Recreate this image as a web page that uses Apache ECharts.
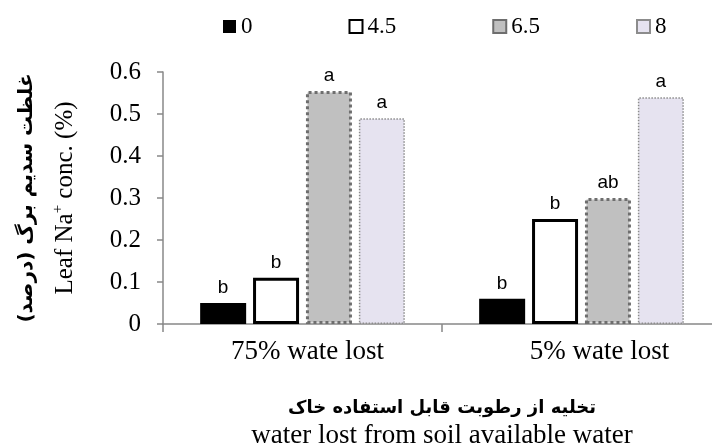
<!DOCTYPE html>
<html>
<head>
<meta charset="utf-8">
<title>Leaf Na+ conc.</title>
<script src="https://cdn.jsdelivr.net/npm/echarts@6/dist/echarts.min.js"></script>
<style>
  html, body { margin: 0; padding: 0; background: #fff; }
  #chart { width: 712px; height: 446px; }
</style>
</head>
<body>
<div id="chart"></div>
<script>
  // data
  var categories = ['75% wate lost', '5% wate lost']
  var levels = ['0', '4.5', '6.5', '8']
  var values0 = [0.05, 0.06]
  var values45 = [0.11, 0.25]
  var values65 = [0.555, 0.30]
  var values8 = [0.49, 0.54]
  var letters0 = ['b', 'b']
  var letters45 = ['b', 'b']
  var letters65 = ['a', 'ab']
  var letters8 = ['a', 'a']
  var yTicks = [0, 0.1, 0.2, 0.3, 0.4, 0.5, 0.6]

  var serif = 'Liberation Serif'

  // bar styles per salinity level
  var styles = [
    { color: '#000000', borderColor: '#000000', borderWidth: 0 },
    { color: '#ffffff', borderColor: '#000000', borderWidth: 3 },
    { color: '#c0c0c0', borderColor: '#6e6e6e', borderWidth: 3, borderType: 'dotted' },
    { color: '#e6e3f0', borderColor: '#8c8c8c', borderWidth: 1.5, borderType: 'dotted' }
  ]
  var seriesValues = [values0, values45, values65, values8]
  var seriesLetters = [letters0, letters45, letters65, letters8]

  function makeSeries (i) {
    var letters = seriesLetters[i]
    return {
      name: levels[i],
      type: 'bar',
      barWidth: 46,
      barGap: '15%',
      data: seriesValues[i],
      itemStyle: styles[i],
      label: {
        show: true,
        position: 'top',
        distance: 6,
        fontFamily: 'Liberation Sans',
        fontSize: 19,
        color: '#000',
        formatter: function (p) { return letters[p.dataIndex] }
      }
    }
  }

  var option = {
    backgroundColor: '#fff',
    animation: false,
    legend: {
      data: levels,
      left: 218,
      top: 10,
      itemWidth: 13,
      itemHeight: 13,
      itemGap: 96,
      icon: 'rect',
      textStyle: { fontFamily: serif, fontSize: 23, color: '#000' }
    },
    grid: {
      left: 163,
      top: 72,
      width: 558,
      height: 252,
      outerBoundsMode: 'none'
    },
    xAxis: {
      type: 'category',
      data: [
        { value: categories[0], textStyle: { padding: [0, 0, 0, 10] } },
        { value: categories[1], textStyle: { padding: [0, 0, 0, 36] } }
      ],
      axisLine: { lineStyle: { color: '#888', width: 1.5 } },
      axisTick: { show: true, length: 8, lineStyle: { color: '#888', width: 1.5 } },
      axisLabel: { margin: 14, fontFamily: serif, fontSize: 27, color: '#000' },
      name: '{fa|تخلیه از رطوبت قابل استفاده خاک}\n{en|water lost from soil available water}',
      nameLocation: 'middle',
      nameGap: 70,
      nameTextStyle: {
        rich: {
          fa: { fontFamily: 'DejaVu Sans', fontWeight: 'bold', fontSize: 18, color: '#000', lineHeight: 28 },
          en: { fontFamily: serif, fontSize: 27, color: '#000', lineHeight: 28 }
        }
      }
    },
    yAxis: {
      type: 'value',
      min: yTicks[0],
      max: yTicks[yTicks.length - 1],
      interval: 0.1,
      splitLine: { show: false },
      axisLine: { show: true, lineStyle: { color: '#888', width: 1.5 } },
      axisTick: { show: true, length: 6, lineStyle: { color: '#888', width: 1.5 } },
      axisLabel: { margin: 22, fontFamily: serif, fontSize: 25, color: '#000' },
      name: '{fa|غلظت سدیم برگ (درصد)}\n{en|Leaf Na}{sup|+}{en| conc. (%)}',
      nameLocation: 'middle',
      nameRotate: 90,
      nameGap: 78,
      nameTextStyle: {
        rich: {
          fa: { fontFamily: 'DejaVu Sans', fontWeight: 'bold', fontSize: 20, color: '#000', lineHeight: 39 },
          en: { fontFamily: serif, fontSize: 25, color: '#000', lineHeight: 39 },
          sup: { fontFamily: serif, fontSize: 15, color: '#000', verticalAlign: 'middle', padding: [0, 0, 14, 0] }
        }
      }
    },
    series: levels.map(function (l, i) { return makeSeries(i) })
  }

  var chart = echarts.init(document.getElementById('chart'))
  chart.setOption(option)
  window.addEventListener('resize', () => {
    chart.resize()
  })
</script>
</body>
</html>
